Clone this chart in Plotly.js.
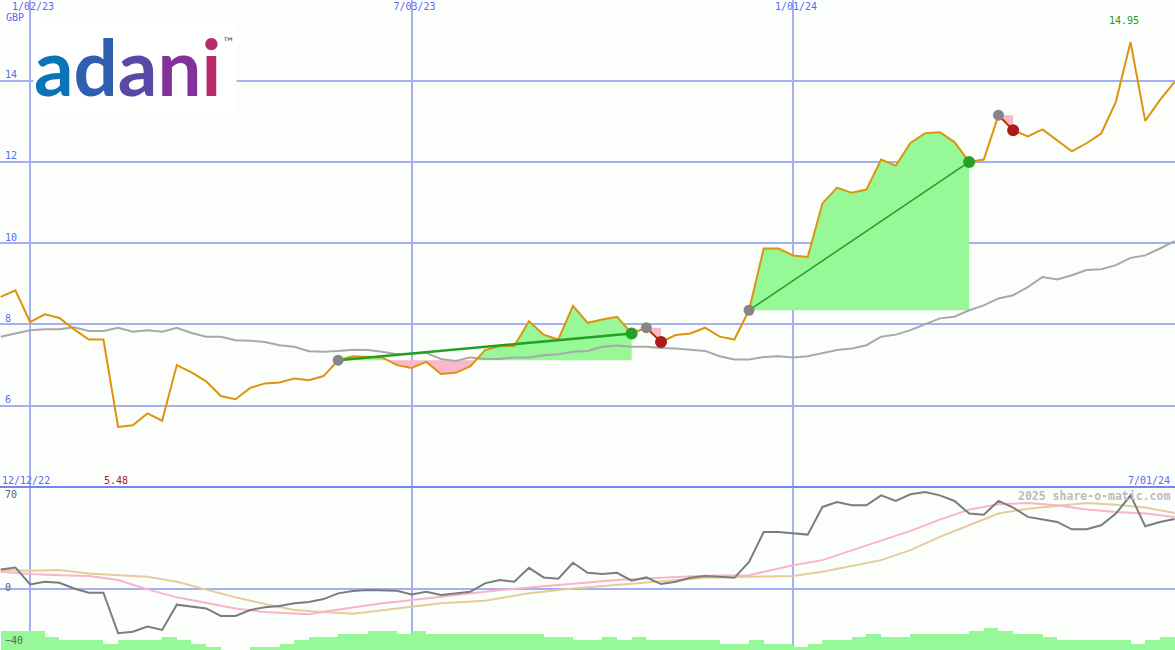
<!DOCTYPE html>
<html><head><meta charset="utf-8">
<script src="https://cdn.plot.ly/plotly-3.0.1.min.js"></script>
<style>html,body{margin:0;padding:0;background:#fcfefc}</style>
</head><body><div id="chart" style="width:1175px;height:650px"></div>
<script>
// ---- data (weekly closes, starting Mon 19 Dec 2022) ----
const firstWeek = '2022-12-19';
const price = [8.68,8.84,8.06,8.25,8.16,7.88,7.63,7.63,5.48,5.52,
  5.81,5.63,7.00,6.82,6.60,6.24,6.16,6.44,6.55,6.57,
  6.67,6.63,6.73,7.12,7.22,7.20,7.19,7.00,6.93,7.08,
  6.78,6.81,6.97,7.37,7.47,7.47,8.08,7.75,7.63,8.46,
  8.04,8.12,8.19,7.78,7.92,7.57,7.74,7.78,7.92,7.70,
  7.63,8.35,9.87,9.87,9.70,9.66,10.98,11.37,11.24,11.32,
  12.06,11.91,12.47,12.71,12.73,12.49,12.00,12.06,13.15,12.78,
  12.63,12.80,12.54,12.26,12.46,12.70,13.48,14.95,13.01,13.52,13.97];
const priceMA = [7.70,7.78,7.86,7.88,7.88,7.93,7.84,7.84,7.92,7.82,
  7.86,7.82,7.92,7.79,7.70,7.70,7.61,7.60,7.57,7.49,
  7.45,7.34,7.33,7.35,7.38,7.37,7.33,7.27,7.29,7.30,
  7.15,7.10,7.19,7.15,7.15,7.19,7.19,7.24,7.27,7.33,
  7.35,7.45,7.48,7.45,7.45,7.42,7.41,7.38,7.35,7.22,
  7.14,7.14,7.20,7.22,7.19,7.22,7.29,7.37,7.41,7.49,
  7.70,7.75,7.86,8.01,8.15,8.19,8.35,8.47,8.64,8.72,
  8.92,9.17,9.11,9.21,9.34,9.36,9.46,9.64,9.70,9.87,10.05];
const momentum = [15.0,16.5,3.7,5.7,5.0,0.7,-2.5,-2.5,-33,-31.8,
  -28,-30.5,-11.5,-13,-14.3,-20,-20,-15.5,-13.5,-12.5,
  -10.5,-9.5,-7.3,-3,-1.3,-0.5,-0.5,-1,-3.8,-1.8,
  -4.3,-3,-1.8,4.5,7,5.7,16.2,9,8,20,
  12.5,11.5,12.5,6.5,9,4,5.7,8.7,10,9.5,
  8.7,20.7,43.2,43.2,42,41.2,62,65.7,63.2,63.2,
  70.7,66.5,71.5,73.2,70.7,66.5,57,56.2,66.5,61.5,
  54.5,52.7,50.7,45.2,45.2,48.2,57,70.7,47.5,50.7,53];
const pinkWeeks = [0,2,4,6,8,10,12,14,16,18,20,21,22,24,26,27,30,33,36,39,42,45,48,51,53,54,56,58,60,62,64,66,68,70,72,74,76,78,80];
const pinkVals = [13.2,11.5,10.7,10,7,0,-6,-10,-14.3,-17,-18,-18.7,-16.8,-13.5,-10.5,-9.3,-5.5,-1.8,1.5,4.5,7,8.7,10.2,10.7,15.7,18.2,22,29.5,37,44,52.5,60,64,65,63.2,60,58.2,57,54.5];
const tanWeeks = [0,2,4,6,8,10,12,14,16,18,20,22,24,26,27,30,33,36,39,42,45,48,51,53,54,56,58,60,62,64,66,68,70,72,74,76,78,80];
const tanVals = [14.5,14,14.5,12,10.7,9.5,5.7,0,-6,-11,-15.5,-17,-18.3,-15.7,-14.3,-10.5,-8.5,-3,0.7,3.2,5.7,8.7,9.5,10,10,13.2,17.5,22,29.5,39.5,48.2,57,60.7,62.7,65,63.7,61.5,57.5];
const volumeLevels = [6,6,6,4,3,3,3,2,3,3, 3,4,3,2,1,0,0,1,1,2, 3,4,4,5,5,6,6,5,6,5,
  5,5,5,5,5,5,5,4,4,3, 3,4,3,4,3,3,3,3,3,2, 2,3,2,2,1,2,3,3,4,5,
  4,4,5,5,5,5,6,7,6,5, 5,4,3,3,3,3,3,2,3,4];
const tradeEntry = [23,44,51,68];
const tradeExit  = [43,45,66,69];
const tickDates  = ['2023-01-02','2023-07-03','2024-01-01'];
const tickLabels = ['1/02/23','7/03/23','1/01/24'];
const priceTicks = [6,8,10,12,14];
const lowerTicks = [-40,0,70];
const currency = 'GBP';
const rangeStartLabel = '12/12/22';
const rangeEndLabel = '7/01/24';
const maxLabel = '14.95';
const minLabel = '5.48';
const watermark = '2025 share-o-matic.com';

// ---- helpers ----
const DAY = 864e5, WEEK = 7*DAY;
const t0 = Date.parse(firstWeek);
const wk = i => t0 + i*WEEK;
const weeks = price.map((_, i) => wk(i));
const tickVals = tickDates.map(d => Date.parse(d));

const BLUE_TXT = '#5a6af0', GRID = '#a4b0f2', FRAME = '#7484f0';
const MONO = 'DejaVu Sans Mono';

function clipPoly(a, b, L, above) {
  const xs = [], ys = [];
  for (let i = a; i <= b; i++) {
    const p = price[i];
    if (i > a) {
      const q = price[i-1];
      if ((q-L)*(p-L) < 0) { const f = (L-q)/(p-q); xs.push(wk(i-1+f)); ys.push(L); }
    }
    xs.push(wk(i)); ys.push(above ? Math.max(p, L) : Math.min(p, L));
  }
  xs.push(wk(b), wk(a)); ys.push(L, L);
  return {xs, ys};
}

const traces = [];
tradeEntry.forEach((a, k) => {
  const b = tradeExit[k], L = price[a];
  const g = clipPoly(a, b, L, true), r = clipPoly(a, b, L, false);
  traces.push({x: g.xs, y: g.ys, xaxis:'x', yaxis:'y', type:'scatter', mode:'lines', fill:'toself',
    fillcolor:'#96f896', line:{width:0}, hoverinfo:'skip', showlegend:false});
  traces.push({x: r.xs, y: r.ys, xaxis:'x', yaxis:'y', type:'scatter', mode:'lines', fill:'toself',
    fillcolor:'#f8b8ca', line:{width:0}, hoverinfo:'skip', showlegend:false});
});
traces.push({x: weeks, y: priceMA, xaxis:'x', yaxis:'y', type:'scatter', mode:'lines',
  line:{color:'#a8a8a8', width:2}, showlegend:false});
traces.push({x: weeks, y: price, xaxis:'x', yaxis:'y', type:'scatter', mode:'lines',
  line:{color:'#dc940e', width:2}, showlegend:false});
const lineW = [2.5, 1.5, 1.5, 1.5];
tradeEntry.forEach((a, k) => {
  const b = tradeExit[k];
  const win = price[b] >= price[a];
  traces.push({x:[wk(a), wk(b)], y:[price[a], price[b]], xaxis:'x', yaxis:'y', type:'scatter', mode:'lines',
    line:{color: win ? '#22a022' : '#a81c1c', width: lineW[k]}, showlegend:false});
});
traces.push({x: tradeEntry.map(wk), y: tradeEntry.map(i => price[i]), xaxis:'x', yaxis:'y', type:'scatter',
  mode:'markers', marker:{color:'#858585', size:11}, showlegend:false});
traces.push({x: tradeExit.map(wk), y: tradeExit.map(i => price[i]), xaxis:'x', yaxis:'y', type:'scatter',
  mode:'markers', marker:{color: tradeExit.map((b,k) => price[b] >= price[tradeEntry[k]] ? '#28a028' : '#a81c1c'), size:12},
  showlegend:false});
traces.push({x: tanWeeks.map(wk), y: tanVals, xaxis:'x2', yaxis:'y2', type:'scatter', mode:'lines',
  line:{color:'#e4cc9c', width:2}, showlegend:false});
traces.push({x: pinkWeeks.map(wk), y: pinkVals, xaxis:'x2', yaxis:'y2', type:'scatter', mode:'lines',
  line:{color:'#f8b4c8', width:2}, showlegend:false});
traces.push({x: weeks, y: momentum, xaxis:'x2', yaxis:'y2', type:'scatter', mode:'lines',
  line:{color:'#7c7c7c', width:2}, showlegend:false});
traces.push({x: volumeLevels.map((_, i) => wk(i) + WEEK/2), y: volumeLevels, xaxis:'x2', yaxis:'y3', type:'bar',
  width: WEEK, marker:{color:'#96f896', line:{width:0}}, showlegend:false, hoverinfo:'skip'});

const split = 163/650;
const xRange = [wk(-0.05), wk(80.03)];
const layout = {
  width:1175, height:650, margin:{l:0,r:0,t:0,b:0},
  paper_bgcolor:'#fcfefc', plot_bgcolor:'#fcfefc', showlegend:false, bargap:0,
  xaxis:{type:'date', domain:[0,1], anchor:'y', range:xRange, side:'top',
    tickmode:'array', tickvals:tickVals, ticktext:tickLabels, ticklabelposition:'inside',
    ticks:'', showgrid:true, gridcolor:GRID, gridwidth:2, zeroline:false, showline:false,
    tickfont:{family:MONO, size:10, color:BLUE_TXT}, ticklabelshift:3},
  yaxis:{domain:[split,1], anchor:'x', range:[4.0,15.986], tickmode:'array', tickvals:priceTicks,
    ticklabelposition:'inside', ticks:'', showgrid:true, gridcolor:GRID, gridwidth:2, zeroline:false,
    tickfont:{family:MONO, size:10, color:BLUE_TXT}, ticklabelshift:-6, ticklabelstandoff:2},
  xaxis2:{type:'date', domain:[0,1], anchor:'y2', matches:'x', range:xRange,
    tickmode:'array', tickvals:tickVals, showticklabels:false, ticks:'',
    showgrid:true, gridcolor:GRID, gridwidth:2, zeroline:false, showline:false},
  yaxis2:{domain:[0,split], anchor:'x2', range:[-45.6,77.0], tickmode:'array', tickvals:lowerTicks,
    ticklabelposition:'inside', ticks:'', showgrid:false, zeroline:true, zerolinecolor:GRID, zerolinewidth:2,
    tickfont:{family:MONO, size:10, color:'#606060'}, ticklabelstandoff:2, ticklabelshift:-2},
  yaxis3:{overlaying:'y2', anchor:'x2', range:[0,51.1], visible:false},
  shapes:[{type:'line', xref:'paper', yref:'paper', x0:0, x1:1, y0:split, y1:split,
    line:{color:FRAME, width:2}}],
  annotations:[
    {xref:'paper', yref:'paper', x:4/1175, y:(650-18)/650, xanchor:'left', yanchor:'middle', showarrow:false,
      text:currency, font:{family:MONO, size:10, color:BLUE_TXT}},
    {xref:'x', yref:'y', x:wk(price.indexOf(Math.max(...price))), y:Math.max(...price), xshift:-7, yshift:22,
      showarrow:false, text:maxLabel, font:{family:MONO, size:10, color:'#1c9a1c'}},
    {xref:'x', yref:'paper', x:wk(price.indexOf(Math.min(...price))), y:(650-480)/650, xshift:-2, yanchor:'middle',
      showarrow:false, text:minLabel, font:{family:MONO, size:10, color:'#a01c1c'}},
    {xref:'paper', yref:'paper', x:0, y:(650-480)/650, xanchor:'left', yanchor:'middle', showarrow:false,
      text:rangeStartLabel, font:{family:MONO, size:10, color:BLUE_TXT}},
    {xref:'paper', yref:'paper', x:1172/1175, y:(650-480)/650, xanchor:'right', yanchor:'middle', showarrow:false,
      text:rangeEndLabel, font:{family:MONO, size:10, color:BLUE_TXT}},
    {xref:'paper', yref:'paper', x:1172/1175, y:(650-496)/650, xanchor:'right', yanchor:'middle', showarrow:false,
      text:watermark, font:{family:MONO, size:11.5, color:'#bcbcbc', weight:'bold'}},
    {xref:'paper', yref:'paper', x:33/1175, y:(650-66)/650, xanchor:'left', yanchor:'middle', showarrow:false,
      bgcolor:'#ffffff', borderpad:0, width:202, align:'left',
      text:'<span style="color:#0a74b8">a</span><span style="color:#2f5fae">d</span><span style="color:#5a48a4">a</span><span style="color:#84309a">n</span><span style="color:#b82a6a">i</span>',
      font:{family:'Lato', size:78, weight:'bold', color:'#5a48a4'}},
    {xref:'paper', yref:'paper', x:229/1175, y:(650-43)/650, xanchor:'center', yanchor:'middle', showarrow:false,
      text:'™', font:{family:'DejaVu Sans', size:13, color:'#505050'}}
  ]
};
Plotly.newPlot('chart', traces, layout, {staticPlot:true});
</script></body></html>
